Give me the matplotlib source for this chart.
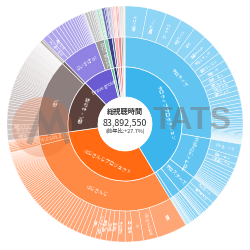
import matplotlib
matplotlib.use('Agg')
import matplotlib.pyplot as plt
import numpy as np
from matplotlib.patches import Circle

plt.rcParams['font.family'] = ['Noto Sans CJK JP', 'DejaVu Sans']

# ---------------- data (relative watch-time share, full circle = 360) ----------------
companies = ['ホロライブプロダクション', 'にじさんじプロジェクト', '個人・その他', 'Brave group',
             'のりプロ', 'ななしいんく', 'あおぎり高校', '774inc.', 'Re:AcT', 'その他A', 'その他B', 'その他C']

holo_main = [11, 9.5, 8, 7.5, 6.5, 5.5, 5, 4.5, 4, 3.5, 3, 2.8, 2.5, 2.3, 2.1, 2, 1.8, 1.7, 1.5, 1.4,
             1.3, 1.2, 1.1, 1.0, 0.9, 0.8, 0.8, 0.7, 0.7, 0.6, 0.5, 0.5, 0.4, 0.4, 0.3, 0.3, 0.3, 0.3,
             0.2, 0.2, 0.2, 0.2, 0.2, 0.2, 0.2, 0.1, 0.1, 0.1]
holo_main_names = ['兎田ぺこら', '宝鐘マリン', 'さくらみこ', '大空スバル', 'AZKi', '角巻わため', '不知火フレア',
                   '星街すいせい', '常闇トワ', '白銀ノエル', '猫又おかゆ', '戌神ころね', '博衣こより']
holo_en = [6.5, 3.5, 2.5, 2, 1.8, 1.6, 1.5, 1.4, 1.2, 1, 1, 0.9, 0.8, 0.6, 0.5, 0.5, 0.4, 0.3]
holo_en_names = ['がうる・ぐら', '森カリオペ', '小鳥遊キアラ']
holo_stars = [4, 2.5, 2, 1.5, 1, 0.8, 0.6, 0.4, 0.2]
holo_stars_names = ['夕刻ロベル', '荒咬オウガ']
holo_id = [1.5, 1.2, 1, 0.8, 0.6, 0.4, 0.3, 0.2]
holo_other = [0.6, 0.5, 0.4, 0.3, 0.2]

niji_main = [15, 7, 5.4, 3.6, 3.6, 3.0, 2.8, 2.7, 2.6, 2.5, 2.4, 2.3, 2.2, 2.1, 2.0, 1.9, 1.8, 1.8,
             1.7, 1.6, 1.6, 1.5, 1.5, 1.5, 1.5, 1.4, 1.4, 1.3, 1.3, 1.2, 1.2, 1.1, 1.1, 1.0, 1.0, 1.0,
             0.9, 0.9, 0.9, 0.8, 0.8, 0.8, 0.7, 0.7, 0.7, 0.7, 0.6, 0.6, 0.6, 0.6, 0.5, 0.5, 0.5, 0.5,
             0.5, 0.4, 0.4, 0.4, 0.4, 0.4, 0.3, 0.3, 0.3, 0.3, 0.3, 0.3, 0.2, 0.2, 0.2, 0.2, 0.2, 0.2,
             0.2, 0.1, 0.1, 0.1, 0.1]
niji_main_names = ['葛葉', 'にじさんじ公式', '叶', '月ノ美兎', '剣持刀也', '不破湊', '笹木咲', '椎名唯華',
                   '本間ひまわり', '社築']
niji_en = [1.2, 1.0, 0.8, 0.7, 0.6, 0.5, 0.4, 0.3, 0.2, 0.2, 0.1]

indie_main = [3.0, 2.5, 2.4, 2.3, 2.0, 1.8, 1.6, 1.5, 1.4, 1.3, 1.2, 1.1, 1.0, 1.0, 0.9, 0.9, 0.8,
              0.8, 0.8, 0.7, 0.7, 0.7, 0.7, 0.7, 0.6, 0.6, 0.6, 0.6, 0.6, 0.6, 0.5, 0.5, 0.5, 0.5,
              0.5, 0.5, 0.5, 0.5, 0.4, 0.4, 0.4, 0.4, 0.4, 0.4, 0.4, 0.4, 0.4, 0.4, 0.3, 0.3, 0.3,
              0.3, 0.3, 0.3, 0.3, 0.3, 0.3, 0.3, 0.3, 0.3, 0.2, 0.2, 0.2, 0.2, 0.2, 0.2, 0.2, 0.2,
              0.2, 0.2, 0.2, 0.2, 0.2, 0.2, 0.2, 0.1, 0.1, 0.1, 0.1, 0.1, 0.1, 0.1, 0.1, 0.1, 0.1,
              0.1, 0.1, 0.1, 0.1, 0.1, 0.1, 0.1, 0.1, 0.1, 0.1]
indie_main_names = ['天開司', '名取さな', '因幡はねる']
indie_other = [1.2, 0.8]

vspo = [3.0, 2.6, 2.3, 2.0, 1.8, 1.6, 1.5, 1.4, 1.3, 1.2, 1.0, 0.9, 0.8, 0.7, 0.6, 0.5, 0.4, 0.3, 0.1]
vspo_names = ['一ノ瀬うるは', '橘ひなの', '花芽すみれ']
riot = [1.5, 1.2, 1.0, 0.8, 0.6, 0.5, 0.4]

noripro = [1.0, 0.7, 0.5, 0.3]
nanashi = [1.2, 0.8, 0.5, 0.3, 0.2]
aogiri = [0.6, 0.5, 0.4]
inc774 = [1.0, 0.7, 0.5, 0.3]
react = [0.8, 0.6, 0.4, 0.2]
other_a = [0.5, 0.4, 0.3]
other_b = [0.4, 0.3]
other_c = [0.4, 0.2]

total_label = '総視聴時間'
total_value = '83,892,550'
total_change = '(前年比:+27.7%)'

# ---------------- hierarchy (built from the arrays above) ----------------
hierarchy = [
    (companies[0], '#3BB5EB', [
        ('ホロライブ', '#62C5F1', '#8FD5F6', holo_main, holo_main_names),
        ('ホロライブEnglish', '#62C5F1', '#8FD5F6', holo_en, holo_en_names),
        ('ホロスターズ', '#62C5F1', '#8FD5F6', holo_stars, holo_stars_names),
        ('', '#62C5F1', '#8FD5F6', holo_id, []),
        ('', '#62C5F1', '#8FD5F6', holo_other, [])]),
    (companies[1], '#FF6A13', [
        ('にじさんじ', '#FF8A45', '#FFA677', niji_main, niji_main_names),
        ('NIJISANJI EN', '#FF8A45', '#FFB58E', niji_en, [])]),
    (companies[2], '#5C403C', [
        ('個人', '#8E7F7F', '#CFC6C6', indie_main, indie_main_names),
        ('', '#7A6A6A', '#BBB0B0', indie_other, [])]),
    (companies[3], '#6B5BD2', [
        ('ぶいすぽっ!', '#8F82E2', '#AFA6EC', vspo, vspo_names),
        ('RIOT MUSIC', '#9A9A9A', '#C2C2C2', riot, [])]),
    (companies[4], '#5DBE8F', [('', '#86D3AC', '#AEE3C7', noripro, [])]),
    (companies[5], '#26296B', [('', '#3B3F86', '#6A6FB0', nanashi, [])]),
    (companies[6], '#4A4E8F', [('', '#6A6EA8', '#9094C4', aogiri, [])]),
    (companies[7], '#F29C9C', [('', '#F5B3B3', '#F8CACA', inc774, [])]),
    (companies[8], '#E06666', [('', '#E88A8A', '#F0AEAE', react, [])]),
    (companies[9], '#8F8F8F', [('', '#AAAAAA', '#C8C8C8', other_a, [])]),
    (companies[10], '#9C6B5B', [('', '#B88E80', '#D4B3A8', other_b, [])]),
    (companies[11], '#E9B949', [('', '#F0CD7A', '#F6E0AA', other_c, [])]),
]

inner_v, inner_c, inner_l = [], [], []
mid_v, mid_c, mid_l = [], [], []
out_v, out_c, out_l = [], [], []
for cname, ccol, groups in hierarchy:
    csum = 0
    for gname, mcol, ocol, vals, names in groups:
        mid_v.append(sum(vals)); mid_c.append(mcol); mid_l.append(gname)
        csum += sum(vals)
        for i, v in enumerate(vals):
            out_v.append(v); out_c.append(ocol)
            out_l.append(names[i] if i < len(names) else '')
    inner_v.append(csum); inner_c.append(ccol)
    inner_l.append(cname if cname in companies[:4] else '')

# ---------------- drawing ----------------
fig = plt.figure(figsize=(2.5, 2.5), dpi=100)
ax = fig.add_axes([0, 0, 1, 1])
C = (0, 1)
R0, R1, R2, R3 = 27, 57, 87, 118

w_out, _ = ax.pie(out_v, radius=R3, center=C, startangle=90, counterclock=False, colors=out_c,
                  wedgeprops=dict(width=R3 - R2, edgecolor='white', linewidth=0.25))
w_mid, _ = ax.pie(mid_v, radius=R2, center=C, startangle=90, counterclock=False, colors=mid_c,
                  wedgeprops=dict(width=R2 - R1, edgecolor='white', linewidth=0.4))
w_in, _ = ax.pie(inner_v, radius=R1, center=C, startangle=90, counterclock=False, colors=inner_c,
                 wedgeprops=dict(width=R1 - R0, edgecolor='white', linewidth=0.5))


def norm(rot):
    return ((rot + 90) % 180) - 90


def place(wedges, labels, rin, rout, size, mode, min_span=0):
    for w, lab in zip(wedges, labels):
        if not lab:
            continue
        span = w.theta2 - w.theta1
        if span < min_span:
            continue
        phi = np.deg2rad((w.theta1 + w.theta2) / 2)
        r = (rin + rout) / 2
        x = C[0] + r * np.cos(phi)
        y = C[1] + r * np.sin(phi)
        m = mode if mode != 'auto' else ('tan' if span > 14 else 'rad')
        deg = np.rad2deg(phi)
        rot = norm(deg - 90) if m == 'tan' else norm(deg)
        ax.text(x, y, lab, rotation=rot, rotation_mode='anchor', ha='center', va='center',
                fontsize=size, color='white', zorder=2)


place(w_in, inner_l, R0, R1, 3.4, 'tan')
place(w_mid, mid_l, R1, R2, 3.3, 'auto')
place(w_out, out_l, R2, R3, 2.4, 'rad', min_span=2.4)

# watermark (logo + text, partly hidden by the centre disc)
ax.add_patch(Circle((42 - 125, 125 - 127), 30, fc='#E8692D', ec='none', alpha=0.25, zorder=3))
ax.plot([30 - 125, 40 - 125, 49 - 125, 57 - 125, 67 - 125],
        [125 - 141, 125 - 114, 125 - 131, 125 - 112, 125 - 141],
        color='#6E6E6E', alpha=0.35, lw=4, solid_joinstyle='miter', zorder=3)
ax.text(153 - 125, 125 - 121, 'TATS', ha='left', va='center', fontsize=23, fontweight='bold',
        family='Liberation Sans', color='#6E6E6E', alpha=0.45, zorder=3)

# centre
ax.add_patch(Circle(C, R0, fc='white', ec='none', zorder=4))
ax.text(0, 125 - 111.5, total_label, ha='center', va='center', fontsize=5.2, color='#333333',
        fontweight='bold', zorder=5)
ax.text(0, 125 - 123, total_value, ha='center', va='center', fontsize=6.4, color='#333333', zorder=5)
ax.text(0, 125 - 131, total_change, ha='center', va='center', fontsize=3.9, color='#333333', zorder=5)

ax.set_xlim(-125, 125)
ax.set_ylim(-125, 125)
ax.set_aspect('equal')
ax.axis('off')
fig.savefig('out.png', dpi=100, facecolor='white')
